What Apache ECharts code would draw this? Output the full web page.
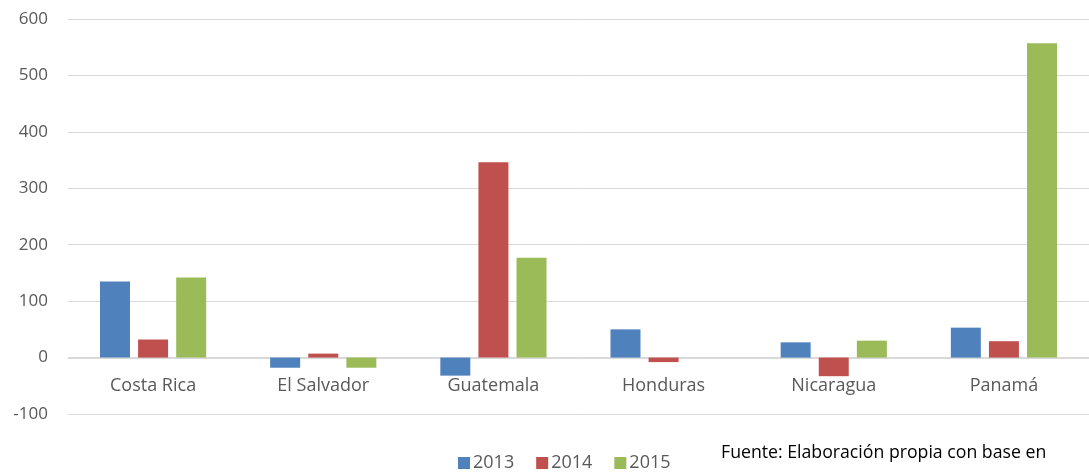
<!DOCTYPE html>
<html>
<head>
<meta charset="utf-8">
<script src="https://cdn.jsdelivr.net/npm/echarts@6/dist/echarts.min.js"></script>
<style>
html,body{margin:0;padding:0;background:#fff;}
#chart{width:1089px;height:472px;}
</style>
</head>
<body>
<div id="chart"></div>
<script>
const categories = ['Costa Rica', 'El Salvador', 'Guatemala', 'Honduras', 'Nicaragua', 'Panamá'];
const years = ['2013', '2014', '2015'];
const values2013 = [135, -18, -32, 50, 27, 53];
const values2014 = [32, 7, 346, -8, -33, 29];
const values2015 = [142, -18, 177, 0, 30, 557];
const yTicks = [-100, 0, 100, 200, 300, 400, 500, 600];
const sourceText = 'Fuente: Elaboración propia con base en';

const colors = ['#4F81BD', '#C0504D', '#9BBB59'];
const font = '"Open Sans", sans-serif';
const seriesData = [values2013, values2014, values2015];

const gridTop = 19, gridHeight = 395;
const yMin = yTicks[0], yMax = yTicks[yTicks.length - 1];
// shift category axis up so it sits on the zero value line
const zeroOffset = -Math.round(gridHeight * (0 - yMin) / (yMax - yMin));

const chart = echarts.init(document.getElementById('chart'));
chart.setOption({
  animation: false,
  color: colors,
  textStyle: { fontFamily: font },
  grid: { left: 68, top: gridTop, width: 1026, height: gridHeight, containLabel: false },
  legend: {
    data: years,
    left: 453,
    top: 449,
    itemWidth: 12,
    itemHeight: 12,
    itemGap: 22,
    icon: 'rect',
    textStyle: { fontFamily: font, fontSize: 18, color: '#595959', padding: [0, 0, 0, -2] }
  },
  xAxis: {
    type: 'category',
    data: categories,
    offset: zeroOffset,
    axisLine: { onZero: false, lineStyle: { color: '#D9D9D9', width: 1 } },
    axisTick: { show: false },
    axisLabel: { margin: 19, fontFamily: font, fontSize: 18, color: '#595959' }
  },
  yAxis: {
    type: 'value',
    min: yMin,
    max: yMax,
    interval: 100,
    axisLine: { show: false },
    axisTick: { show: false },
    splitLine: { lineStyle: { color: '#D9D9D9', width: 1 } },
    axisLabel: { margin: 20, fontFamily: font, fontSize: 17, color: '#595959' }
  },
  series: years.map((y, i) => ({
    name: y,
    type: 'bar',
    data: seriesData[i],
    barWidth: 30,
    barGap: '27%',
    itemStyle: { color: colors[i] }
  })),
  graphic: [{
    type: 'text',
    left: 721,
    top: 444,
    style: { text: sourceText, font: '17.7px ' + font, fill: '#000' }
  }]
});
</script>
</body>
</html>
